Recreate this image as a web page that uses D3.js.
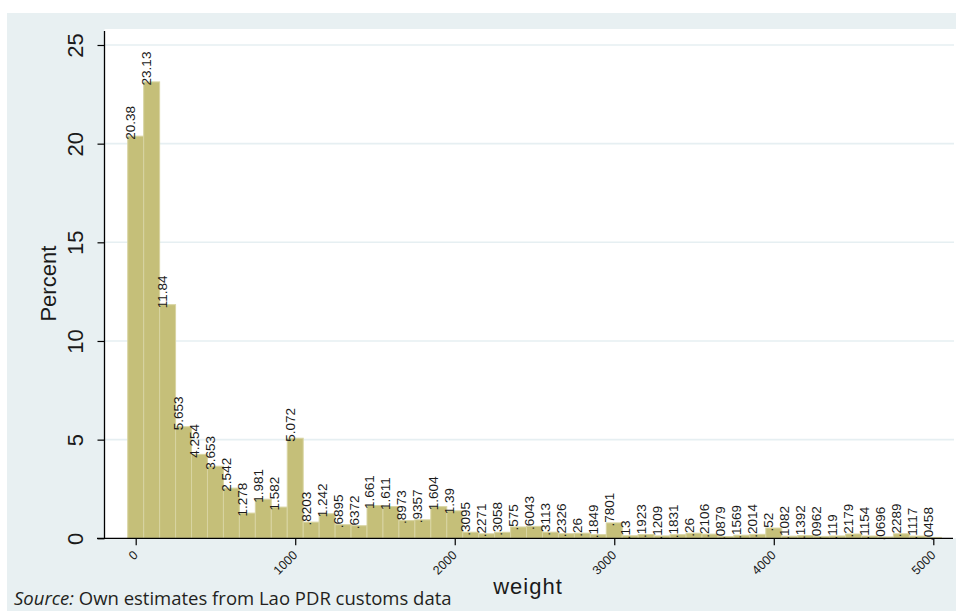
<!DOCTYPE html>
<html>
<head>
<meta charset="utf-8">
<script src="https://cdn.jsdelivr.net/npm/d3@7"></script>
<style>
  html, body { margin: 0; padding: 0; background: #ffffff; }
  svg { display: block; }
</style>
</head>
<body>
<div id="chart"></div>
<script>
// ---- data ----
const binMid = [0,100,200,300,400,500,600,700,800,900,1000,1100,1200,1300,1400,1500,1600,1700,1800,1900,2000,2100,2200,2300,2400,2500,2600,2700,2800,2900,3000,3100,3200,3300,3400,3500,3600,3700,3800,3900,4000,4100,4200,4300,4400,4500,4600,4700,4800,4900,5000];
const percent = [20.38,23.13,11.84,5.653,4.254,3.653,2.542,1.278,1.981,1.582,5.072,0.8203,1.242,0.6895,0.6372,1.661,1.611,0.8973,0.9357,1.604,1.39,0.3095,0.2271,0.3058,0.575,0.6043,0.3113,0.2326,0.26,0.1849,0.7801,0.13,0.1923,0.1209,0.1831,0.26,0.2106,0.0879,0.1569,0.2014,0.52,0.1082,0.1392,0.0962,0.119,0.2179,0.1154,0.0696,0.2289,0.1117,0.0458];
const barLabels = ["20.38","23.13","11.84","5.653","4.254","3.653","2.542","1.278","1.981","1.582","5.072",".8203","1.242",".6895",".6372","1.661","1.611",".8973",".9357","1.604","1.39",".3095",".2271",".3058",".575",".6043",".3113",".2326",".26",".1849",".7801",".13",".1923",".1209",".1831",".26",".2106",".0879",".1569",".2014",".52",".1082",".1392",".0962",".119",".2179",".1154",".0696",".2289",".1117",".0458"];
const binWidth = 100;
const yTicks = [0,5,10,15,20,25];
const yGrid = [5,10,15,20,25];
const xTicks = [0,1000,2000,3000,4000,5000];
const yTitle = "Percent";
const xTitle = "weight";

// ---- layout ----
const W = 956, H = 611;
const svg = d3.select("#chart").append("svg").attr("width", W).attr("height", H);

const x = d3.scaleLinear().domain([0, 5000]).range([135.7, 933.3]);
const y = d3.scaleLinear().domain([0, 25]).range([538.3, 45]);
const plotLeft = 104.5, plotTop = 29, plotRight = 956;

// outer graph region
svg.append("rect").attr("x", 7).attr("y", 13).attr("width", W - 7).attr("height", H - 13)
  .attr("fill", "#e8f0f2");
// plot region
svg.append("rect").attr("x", plotLeft).attr("y", plotTop)
  .attr("width", plotRight - plotLeft).attr("height", y(0) - plotTop)
  .attr("fill", "#ffffff");

// gridlines
svg.append("g").selectAll("line").data(yGrid).join("line")
  .attr("x1", plotLeft).attr("x2", 954)
  .attr("y1", d => y(d)).attr("y2", d => y(d))
  .attr("stroke", "#e6eff2").attr("stroke-width", 1.6);

// bars
svg.append("g").selectAll("rect").data(binMid).join("rect")
  .attr("x", d => x(d - binWidth / 2))
  .attr("width", d => x(d + binWidth / 2) - x(d - binWidth / 2))
  .attr("y", (d, i) => y(percent[i]))
  .attr("height", (d, i) => y(0) - y(percent[i]))
  .attr("fill", "#c5bf79")
  .attr("stroke", "#d8d4a2")
  .attr("stroke-width", 1);

// bar labels
svg.append("g").selectAll("text").data(binMid).join("text")
  .attr("transform", (d, i) => `translate(${x(d) - 0.5},${y(percent[i]) + 3.5}) rotate(-90)`)
  .attr("text-anchor", "start")
  .attr("font-family", "'Liberation Sans', Arial, sans-serif")
  .attr("font-size", 13.5)
  .attr("fill", "#1b1b1b")
  .text((d, i) => barLabels[i]);

// y axis
const yAxis = svg.append("g").attr("transform", `translate(${plotLeft},0)`)
  .call(d3.axisLeft(y).tickValues(yTicks).tickSize(7).tickSizeOuter(0));
yAxis.select(".domain").remove();
yAxis.selectAll(".tick line").attr("stroke", "#000").attr("stroke-width", 1.2);
yAxis.selectAll(".tick text")
  .attr("transform", "rotate(-90)")
  .attr("x", 0).attr("y", -21.5).attr("dy", 0)
  .attr("text-anchor", "middle")
  .attr("font-family", "'Liberation Sans', Arial, sans-serif")
  .attr("font-size", 22)
  .attr("fill", "#1a1a1a");
svg.append("line").attr("x1", plotLeft).attr("x2", plotLeft)
  .attr("y1", plotTop + 2).attr("y2", y(0))
  .attr("stroke", "#000").attr("stroke-width", 1.3);

// x axis
const xAxis = svg.append("g").attr("transform", `translate(0,${y(0)})`)
  .call(d3.axisBottom(x).tickValues(xTicks).tickSize(7).tickSizeOuter(0).tickFormat(d3.format("d")));
xAxis.select(".domain").remove();
xAxis.selectAll(".tick line").attr("stroke", "#000").attr("stroke-width", 1.2);
xAxis.selectAll(".tick text")
  .attr("transform", "translate(2.5,17.5) rotate(-45)")
  .attr("x", 0).attr("y", 0).attr("dy", 0)
  .attr("text-anchor", "end")
  .attr("font-family", "'Liberation Sans', Arial, sans-serif")
  .attr("font-size", 12.5)
  .attr("fill", "#1a1a1a");
svg.append("line").attr("x1", 97).attr("x2", 953)
  .attr("y1", y(0)).attr("y2", y(0))
  .attr("stroke", "#000").attr("stroke-width", 1.3);

// axis titles
svg.append("text")
  .attr("transform", `translate(56,${(plotTop + y(0)) / 2}) rotate(-90)`)
  .attr("text-anchor", "middle")
  .attr("font-family", "'Liberation Sans', Arial, sans-serif")
  .attr("font-size", 22)
  .attr("fill", "#1a1a1a")
  .text(yTitle);

svg.append("text")
  .attr("x", 528).attr("y", 594)
  .attr("text-anchor", "middle")
  .attr("font-family", "'Liberation Sans', Arial, sans-serif")
  .attr("font-size", 22)
  .attr("letter-spacing", 1)
  .attr("fill", "#1a1a1a")
  .text(xTitle);

// source note
const src = svg.append("text")
  .attr("x", 14).attr("y", 605)
  .attr("font-family", "'Open Sans', 'Noto Sans', sans-serif")
  .attr("font-size", 18.5)
  .attr("fill", "#231f20");
src.append("tspan").attr("font-style", "italic").text("Source:");
src.append("tspan").text(" Own estimates from Lao PDR customs data");
</script>
</body>
</html>
